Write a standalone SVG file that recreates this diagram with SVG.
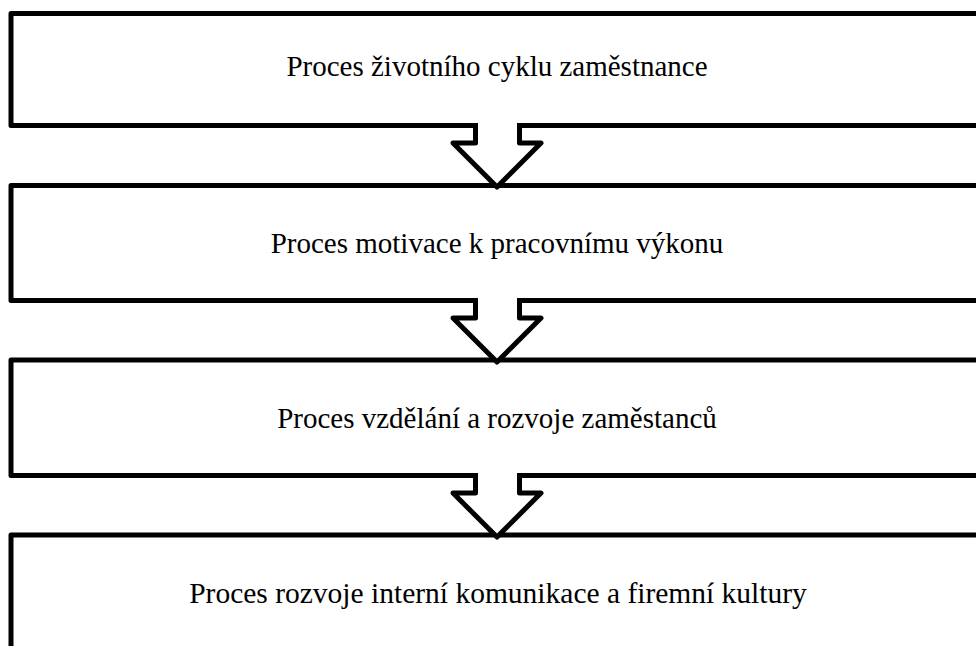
<svg xmlns="http://www.w3.org/2000/svg" width="976" height="646" viewBox="0 0 976 646">
  <style>
    .box { fill: #ffffff; stroke: #000000; stroke-width: 5; stroke-linejoin: round; }
    .label { font-family: "Liberation Serif", "Times New Roman", serif; font-size: 29px; fill: #000000; text-anchor: middle; }
    .arrow { fill: #ffffff; stroke: #000000; stroke-width: 5; stroke-linejoin: round; stroke-linecap: butt; }
  </style>
  <rect width="976" height="646" fill="#ffffff"/>

  <g id="node-lifecycle">
    <rect class="box" x="11" y="13.5" width="972" height="112"/>
    <text class="label" x="497" y="76">Proces životního cyklu zaměstnance</text>
  </g>
  <g id="node-motivation">
    <rect class="box" x="11" y="185.5" width="972" height="115"/>
    <text class="label" x="497" y="253">Proces motivace k pracovnímu výkonu</text>
  </g>
  <g id="node-education">
    <rect class="box" x="11" y="360" width="972" height="115.5"/>
    <text class="label" x="497" y="428">Proces vzdělání a rozvoje zaměstanců</text>
  </g>
  <g id="node-communication">
    <rect class="box" x="11" y="535" width="972" height="140"/>
    <text class="label" x="498" y="603" style="font-size:29.5px">Proces rozvoje interní komunikace a firemní kultury</text>
  </g>

  <!-- hollow block arrows between the stages; the open path's fill masks the box edge -->
  <g id="connectors">
    <path class="arrow" d="M475.5,123 V143 H453 L497,187 L541,143 H519.5 V123"/>
    <path class="arrow" d="M475.5,298 V318 H453 L497,362 L541,318 H519.5 V298"/>
    <path class="arrow" d="M475.5,473 V493 H453 L497,537 L541,493 H519.5 V473"/>
  </g>
</svg>
